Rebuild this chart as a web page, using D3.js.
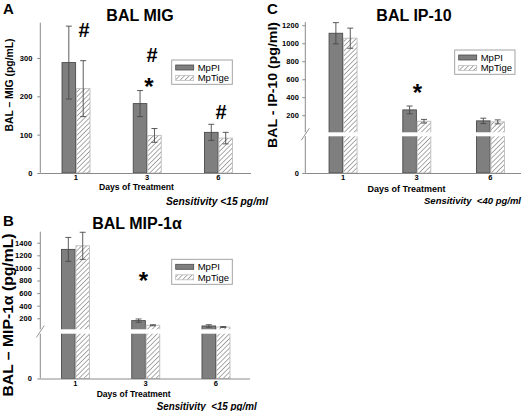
<!DOCTYPE html>
<html><head><meta charset="utf-8">
<script src="https://cdn.jsdelivr.net/npm/d3@7"></script>
<style>body{margin:0;background:#fff}svg{display:block}text{font-family:"Liberation Sans",Arial,sans-serif}</style>
</head><body>
<svg id="c" width="528" height="411"></svg>
<script>
// ---- data ----
const days = ["1", "3", "6"];
const seriesNames = ["MpPI", "MpTige"];

const migMpPI = [288, 181, 106];
const migMpPIErr = [95, 34, 21];
const migMpTige = [220, 98, 91];
const migMpTigeErr = [73, 18, 15];
const migTicks = [0, 100, 200, 300];

const mipMpPI = [1294, 163, 78];
const mipMpPIErr = [190, 26, 20];
const mipMpTige = [1351, 89, 61];
const mipMpTigeErr = [215, 8, 8];
const mipTicks = [0, 200, 400, 600, 800, 1000, 1200, 1400];

const ipMpPI = [1111, 259, 137];
const ipMpPIErr = [118, 43, 30];
const ipMpTige = [1056, 133, 126];
const ipMpTigeErr = [112, 20, 22];
const ipTicks = [0, 200, 400, 600, 800, 1000, 1200];

// ---- drawing ----
const svg = d3.select("#c");
const defs = svg.append("defs");
const pat = defs.append("pattern").attr("id", "hatch").attr("patternUnits", "userSpaceOnUse")
  .attr("width", 3.4).attr("height", 3.4).attr("patternTransform", "rotate(45)");
pat.append("rect").attr("width", 3.4).attr("height", 3.4).attr("fill", "#fff");
pat.append("line").attr("x1", 0).attr("y1", 0).attr("x2", 0).attr("y2", 3.4)
  .attr("stroke", "#555").attr("stroke-width", 1);

const AXIS = "#8a8a8a";
const font = "Liberation Sans, Arial, sans-serif";

function drawPanel(p) {
  const g = svg.append("g");
  const x = d3.scaleBand().domain(days).range(p.xRange).paddingInner(0).paddingOuter(0);
  const y = d3.scaleLinear().domain(p.yDomain).range(p.yRange);
  const bw = 13.6;
  const axisX = p.xRange[0];
  const base = y(0);
  const center = d => x(d) + x.bandwidth() / 2 + (p.shift || 0);

  // bars
  const vals = [p.a, p.b], errs = [p.aErr, p.bErr];
  days.forEach((d, i) => {
    const cx = center(d);
    [0, 1].forEach(s => {
      const x0 = s === 0 ? cx - bw - 0.3 : cx + 0.5;
      const v = vals[s][i];
      g.append("rect").attr("x", x0).attr("y", y(v)).attr("width", bw).attr("height", base - y(v))
        .attr("fill", s === 0 ? "#7f7f7f" : "url(#hatch)")
        .attr("stroke", s === 0 ? "#4a4a4a" : "#bdbdbd").attr("stroke-width", 0.9);
    });
  });

  // break gap
  if (p.gap) {
    g.append("rect").attr("x", axisX + 0.6).attr("y", p.gap[0]).attr("width", p.xRange[1] - axisX)
      .attr("height", p.gap[1] - p.gap[0]).attr("fill", "#fff");
  }

  // error bars
  days.forEach((d, i) => {
    const cx = center(d);
    [0, 1].forEach(s => {
      const xc = s === 0 ? cx - bw / 2 - 0.3 : cx + bw / 2 + 0.5;
      const v = vals[s][i], e = errs[s][i];
      const col = "#4a4a4a";
      g.append("line").attr("x1", xc).attr("x2", xc).attr("y1", y(v + e)).attr("y2", y(v - e))
        .attr("stroke", col).attr("stroke-width", 0.9);
      [v + e, v - e].forEach(t => g.append("line").attr("x1", xc - 3).attr("x2", xc + 3)
        .attr("y1", y(t)).attr("y2", y(t)).attr("stroke", col).attr("stroke-width", 0.9));
    });
  });

  // y axis
  const ya = g.append("g").attr("transform", `translate(${axisX},0)`)
    .call(d3.axisLeft(y).tickValues(p.ticks).tickSize(3).tickSizeOuter(0).tickPadding(p.tickPad).tickFormat(d3.format("d")));
  ya.select(".domain").remove();
  ya.selectAll(".tick line").attr("stroke", AXIS);
  ya.selectAll(".tick text").attr("font-family", font).attr("font-weight", "bold").attr("font-size", 7.5).attr("fill", "#000");
  if (p.gap) {
    g.append("line").attr("x1", axisX).attr("x2", axisX).attr("y1", base).attr("y2", p.gap[1]).attr("stroke", AXIS);
    g.append("line").attr("x1", axisX).attr("x2", axisX).attr("y1", p.gap[0]).attr("y2", p.yRange[p.yRange.length - 1]).attr("stroke", AXIS);
    const gm = (p.gap[0] + p.gap[1]) / 2;
    g.append("line").attr("x1", axisX - 4).attr("x2", axisX + 4).attr("y1", gm + 6).attr("y2", gm - 6)
      .attr("stroke", AXIS).attr("stroke-width", 0.9);
  } else {
    g.append("line").attr("x1", axisX).attr("x2", axisX).attr("y1", base).attr("y2", p.yRange[1]).attr("stroke", AXIS);
  }

  // x axis
  const xa = g.append("g").attr("transform", `translate(0,${base})`)
    .call(d3.axisBottom(x).tickSize(0).tickPadding(2));
  xa.select(".domain").attr("stroke", AXIS).attr("d", `M${axisX},0.5H${p.xEnd}`);
  xa.selectAll(".tick").attr("transform", d => `translate(${center(d)},0)`);
  xa.selectAll(".tick text").attr("font-family", font).attr("font-weight", "bold").attr("font-size", 7.5).attr("fill", "#000");

  // titles
  g.append("text").attr("x", p.letter[0]).attr("y", p.letter[1]).text(p.letter[2])
    .attr("font-weight", "bold").attr("font-size", 15);
  g.append("text").attr("x", p.title[0]).attr("y", p.title[1]).attr("text-anchor", "middle")
    .attr("font-weight", "bold").attr("font-size", 16).text(p.title[2]);
  g.append("text").attr("transform", `translate(${p.ylab[0]},${p.ylab[1]}) rotate(-90)`)
    .attr("text-anchor", "middle").attr("font-weight", "bold").attr("font-size", p.ylab[3])
    .attr("textLength", p.ylab[4]).attr("lengthAdjust", "spacingAndGlyphs").text(p.ylab[2]);
  g.append("text").attr("x", p.xlab[0]).attr("y", p.xlab[1]).attr("text-anchor", "middle")
    .attr("font-weight", "bold").attr("font-size", 8.6).attr("textLength", p.xlab[2])
    .attr("lengthAdjust", "spacingAndGlyphs").text("Days of Treatment");
  g.append("text").attr("x", p.sens[0]).attr("y", p.sens[1]).attr("font-style", "italic")
    .attr("font-weight", "bold").attr("font-size", p.sens[4] || 10.5).attr("textLength", p.sens[3])
    .attr("lengthAdjust", "spacingAndGlyphs").attr("xml:space", "preserve").text(p.sens[2]);

  // legend
  const L = p.legend;
  g.append("rect").attr("x", L[0]).attr("y", L[1]).attr("width", L[2]).attr("height", L[3])
    .attr("fill", "#fff").attr("stroke", "#9a9a9a").attr("stroke-width", 0.9);
  seriesNames.forEach((n, k) => {
    const ry = L[1] + 7.5 + k * 10.5;
    g.append("rect").attr("x", L[0] + 4).attr("y", ry - 2.5).attr("width", 18).attr("height", 5)
      .attr("fill", k === 0 ? "#7f7f7f" : "url(#hatch)")
      .attr("stroke", k === 0 ? "#4a4a4a" : "#bdbdbd").attr("stroke-width", 0.8);
    g.append("text").attr("x", L[0] + 26).attr("y", ry + 3.3).attr("font-size", 9.5).text(n);
  });

  // annotations
  p.marks.forEach(m => g.append("text").attr("x", m[0]).attr("y", m[1]).attr("text-anchor", "middle")
    .attr("font-weight", "bold").attr("font-size", m[2] === "*" ? 24 : 20).text(m[2]));
}

// Panel A
drawPanel({
  a: migMpPI, aErr: migMpPIErr, b: migMpTige, bErr: migMpTigeErr, ticks: migTicks, tickPad: 5,
  xRange: [40.3, 254], xEnd: 251, yDomain: [0, 392], yRange: [173, 22.7],
  letter: [3, 14, "A"], title: [140, 21, "BAL MIG"],
  ylab: [13, 85, "BAL – MIG (pg/mL)", 11, 93],
  xlab: [136.5, 190, 75], sens: [166, 204.5, "Sensitivity <15 pg/ml", 102],
  legend: [171.7, 60, 60.6, 24.3],
  marks: [[84, 37, "#"], [152, 62, "#"], [149, 94.5, "*"], [221, 119, "#"]]
});

// Panel B
drawPanel({
  a: mipMpPI, aErr: mipMpPIErr, b: mipMpTige, bErr: mipMpTigeErr, ticks: mipTicks, tickPad: 5.5,
  xRange: [40.3, 251], xEnd: 250, yDomain: [0, 25, 25.001, 1575], yRange: [378.5, 333.7, 329.3, 231.7],
  gap: [329.3, 333.7],
  letter: [3, 226, "B"], title: [137, 229, "BAL MIP-1α"],
  ylab: [13, 315, "BAL – MIP-1α (pg/mL)", 14, 163],
  xlab: [133.7, 396.5, 74], sens: [156.7, 409.5, "Sensitivity  <15 pg/ml", 100],
  legend: [171.7, 259.3, 60.6, 25],
  marks: [[143.5, 289, "*"]]
});

// Panel C
drawPanel({
  a: ipMpPI, aErr: ipMpPIErr, b: ipMpTige, bErr: ipMpTigeErr, ticks: ipTicks, tickPad: 3.5,
  xRange: [305.3, 526.5], xEnd: 521, yDomain: [0, 10, 10.001, 1235], yRange: [173, 136.3, 132.3, 22.1],
  gap: [132.3, 136.3], shift: 0.8,
  letter: [267, 14, "C"], title: [414, 21, "BAL IP-10"],
  ylab: [277, 85, "BAL - IP-10 (pg/ml)", 12.5, 126],
  xlab: [406.5, 191.5, 78], sens: [424, 203.5, "Sensitivity  <40 pg/ml", 97, 9.2],
  legend: [454.7, 50, 60.3, 24.3],
  marks: [[417.3, 101, "*"]]
});
</script>
</body></html>
